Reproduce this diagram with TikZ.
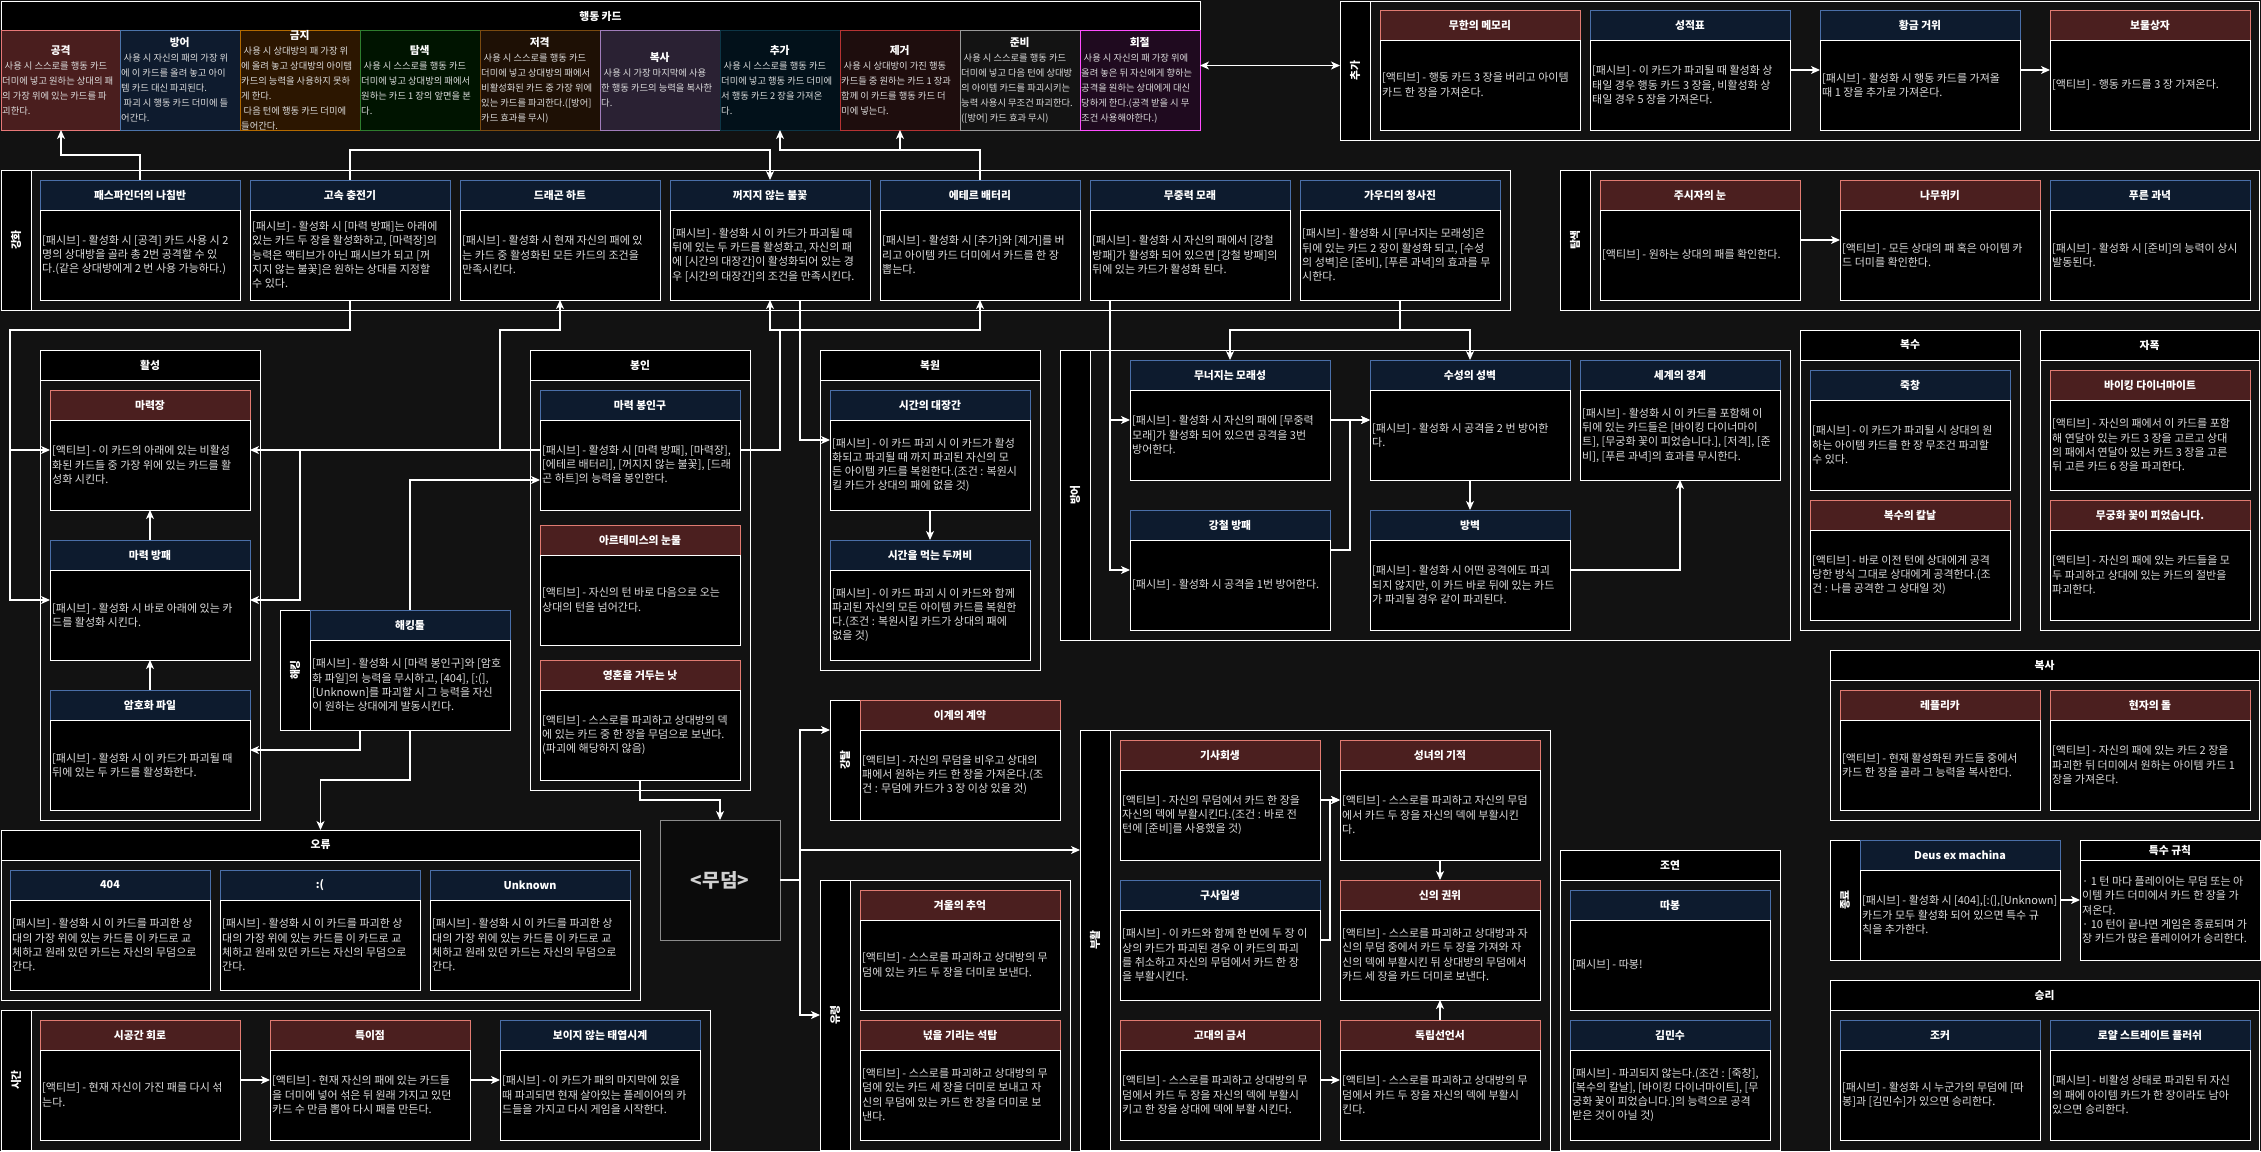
\documentclass[tikz,border=0pt]{standalone}
\usepackage{fontspec}
\setmainfont{Noto Sans CJK KR}
\usetikzlibrary{arrows.meta}

\definecolor{bg}{HTML}{121212}
\definecolor{redF}{HTML}{4B1F1F}
\definecolor{redL}{HTML}{E07B72}
\definecolor{bluF}{HTML}{0D1B2E}
\definecolor{bluL}{HTML}{4A6FA8}
\definecolor{txt}{HTML}{DDDDDD}
% action card colours
\definecolor{atkF}{HTML}{4A1E1E}\definecolor{atkL}{HTML}{E87878}
\definecolor{defF}{HTML}{0E1B2E}\definecolor{defL}{HTML}{4C74AA}
\definecolor{banF}{HTML}{2C1600}\definecolor{banL}{HTML}{B36A00}
\definecolor{srcF}{HTML}{001400}\definecolor{srcL}{HTML}{2E7D2E}
\definecolor{snpF}{HTML}{1E1005}\definecolor{snpL}{HTML}{7A4A10}
\definecolor{cpyF}{HTML}{2A2133}\definecolor{cpyL}{HTML}{A07DBB}
\definecolor{addF}{HTML}{02111A}\definecolor{addL}{HTML}{0D3646}
\definecolor{remF}{HTML}{1E0D0D}\definecolor{remL}{HTML}{B53333}
\definecolor{prpF}{HTML}{131313}\definecolor{prpL}{HTML}{999999}
\definecolor{rflF}{HTML}{1F0A1F}\definecolor{rflL}{HTML}{FF4DFF}
\definecolor{graveF}{HTML}{0B0B0B}\definecolor{graveL}{HTML}{8C8C8C}

\tikzset{
  cardbox/.style={minimum width=200pt, minimum height=120pt, inner sep=0pt, outer sep=0pt},
  redh/.style={draw=redL, fill=redF, line width=1pt},
  bluh/.style={draw=bluL, fill=bluF, line width=1pt},
  bodyb/.style={draw=white, fill=black, line width=1pt},
  htext/.style={text=white, inner sep=0pt, font=\fontsize{10.8}{12}\selectfont\bfseries},
  btext/.style={text=txt, align=left, inner sep=0pt, font=\fontsize{11}{14.3}\selectfont},
  acbox/.style={minimum width=120pt, minimum height=100pt, inner sep=0pt, outer sep=0pt, line width=1pt},
  atext/.style={text=txt, align=left, inner sep=0pt, font=\fontsize{9.3}{15}\selectfont},
  cont/.style={draw=white, line width=1pt, inner sep=0pt, outer sep=0pt},
  band/.style={draw=white, fill=black, line width=1pt},
  ctitle/.style={text=white, inner sep=0pt, font=\fontsize{10.8}{12}\selectfont\bfseries},
  wire/.style={draw=white, line width=1.2pt},
  arr/.style={wire, -{Stealth[length=9pt,width=8pt,inset=2.5pt]}},
  darr/.style={wire, {Stealth[length=9pt,width=8pt,inset=2.5pt]}-{Stealth[length=9pt,width=8pt,inset=2.5pt]}},
}

% item card: name, left x, top y, header style, title, body
\newcommand\icard[6]{%
  \node[cardbox, anchor=north west] (#1) at (#2,#3) {};
  \draw[#4] (#1.north west) rectangle ([yshift=-30pt]#1.north east);
  \draw[bodyb] ([yshift=-30pt]#1.north west) rectangle (#1.south east);
  \node[htext] at ([yshift=-15pt]#1.north) {#5};
  \node[btext, anchor=west] at ([shift={(2pt,-15pt)}]#1.west) {#6};
}
% action card: name, left x, fill, line, title, body
\newcommand\acard[6]{%
  \node[acbox, draw=#4, fill=#3, anchor=north west] (#1) at (#2,30) {};
  \node[atext, anchor=west] at ([xshift=1pt]#1.west)
    {\makebox[117pt]{\color{white}\fontsize{10.8}{15}\selectfont\bfseries #5}\\#6};
}
% container with a title band on top
\newcommand\tcont[6]{%
  \node[cont, minimum width=#4pt, minimum height=#5pt, anchor=north west] (#1) at (#2,#3) {};
  \draw[band] (#1.north west) rectangle ([yshift=-30pt]#1.north east);
  \node[ctitle] at ([yshift=-15pt]#1.north) {#6};
}
% container with a label band on the left
\newcommand\lcont[6]{%
  \node[cont, minimum width=#4pt, minimum height=#5pt, anchor=north west] (#1) at (#2,#3) {};
  \draw[band] (#1.north west) rectangle ([xshift=30pt]#1.south west);
  \node[ctitle, rotate=90] at ([xshift=15pt]#1.west) {#6};
}
\newcommand\ind{\hspace*{2.5pt}}

\begin{document}
\begin{tikzpicture}[x=1pt,y=-1pt]
\useasboundingbox[fill=bg] (0,0) rectangle (2261,1151);

% ---------------- containers ----------------
\tcont{actbox}{1}{1}{1199}{129}{행동 카드}
\lcont{addbox}{1340}{1}{919}{139}{추가}
\lcont{enhbox}{1}{170}{1509}{140}{강화}
\lcont{srchbox}{1560}{170}{699}{140}{탐색}
\tcont{actvbox}{40}{350}{220}{470}{활성}
\tcont{sealbox}{530}{350}{220}{440}{봉인}
\lcont{hackbox}{280}{610}{230}{120}{해킹}
\tcont{restbox}{820}{350}{220}{320}{복원}
\lcont{defbox}{1060}{350}{730}{290}{방어}
\tcont{revgbox}{1800}{330}{220}{300}{복수}
\tcont{boombox}{2040}{330}{219}{300}{자폭}
\tcont{cpybox}{1830}{650}{429}{170}{복사}
\lcont{endbox}{1830}{840}{230}{120}{종료}
\tcont{winbox}{1830}{980}{429}{170}{승리}
\tcont{castbox}{1560}{850}{220}{300}{조연}
\lcont{revbox}{1080}{730}{470}{420}{부활}
\lcont{ghostbox}{820}{880}{250}{270}{유령}
\lcont{pactbox}{830}{700}{230}{120}{강탈}
\tcont{errbox}{1}{830}{639}{170}{오류}
\lcont{timebox}{1}{1010}{709}{140}{시간}

% ---------------- action cards ----------------
\acard{atk}{1}{atkF}{atkL}{공격}{\ind 사용 시 스스로를 행동 카드\\더미에 넣고 원하는 상대의 패\\의 가장 위에 있는 카드를 파\\괴한다.}
\acard{def}{120}{defF}{defL}{방어}{\ind 사용 시 자신의 패의 가장 위\\에 이 카드를 올려 놓고 아이\\템 카드 대신 파괴된다.\\\ind 파괴 시 행동 카드 더미에 들\\어간다.}
\acard{ban}{240}{banF}{banL}{금지}{\ind 사용 시 상대방의 패 가장 위\\에 올려 놓고 상대방의 아이템\\카드의 능력을 사용하지 못하\\게 한다.\\\ind 다음 턴에 행동 카드 더미에\\들어간다.}
\acard{srch}{360}{srcF}{srcL}{탐색}{\ind 사용 시 스스로를 행동 카드\\더미에 넣고 상대방의 패에서\\원하는 카드 1 장의 앞면을 본\\다.}
\acard{snipe}{480}{snpF}{snpL}{저격}{\ind 사용 시 스스로를 행동 카드\\더미에 넣고 상대방의 패에서\\비활성화된 카드 중 가장 위에\\있는 카드를 파괴한다.([방어]\\카드 효과를 무시)}
\acard{copy}{600}{cpyF}{cpyL}{복사}{\ind 사용 시 가장 마지막에 사용\\한 행동 카드의 능력을 복사한\\다.}
\acard{add}{720}{addF}{addL}{추가}{\ind 사용 시 스스로를 행동 카드\\더미에 넣고 행동 카드 더미에\\서 행동 카드 2 장을 가져온\\다.}
\acard{rem}{840}{remF}{remL}{제거}{\ind 사용 시 상대방이 가진 행동\\카드들 중 원하는 카드 1 장과\\함께 이 카드를 행동 카드 더\\미에 넣는다.}
\acard{prep}{960}{prpF}{prpL}{준비}{\ind 사용 시 스스로를 행동 카드\\더미에 넣고 다음 턴에 상대방\\의 아이템 카드를 파괴시키는\\능력 사용시 무조건 파괴한다.\\([방어] 카드 효과 무시)}
\acard{refl}{1080}{rflF}{rflL}{회절}{\ind 사용 시 자신의 패 가장 위에\\올려 놓은 뒤 자신에게 향하는\\공격을 원하는 상대에게 대신\\당하게 한다.(공격 받을 시 무\\조건 사용해야한다.)}

% ---------------- 추가 ----------------
\icard{mem}{1380}{10}{redh}{무한의 메모리}{[액티브] - 행동 카드 3 장을 버리고 아이템\\카드 한 장을 가져온다.}
\icard{grade}{1590}{10}{bluh}{성적표}{[패시브] - 이 카드가 파괴될 때 활성화 상\\태일 경우 행동 카드 3 장을, 비활성화 상\\태일 경우 5 장을 가져온다.}
\icard{goose}{1820}{10}{bluh}{황금 거위}{[패시브] - 활성화 시 행동 카드를 가져올\\때 1 장을 추가로 가져온다.}
\icard{chest}{2050}{10}{redh}{보물상자}{[액티브] - 행동 카드를 3 장 가져온다.}

% ---------------- 강화 ----------------
\icard{pfn}{40}{180}{bluh}{패스파인더의 나침반}{[패시브] - 활성화 시 [공격] 카드 사용 시 2\\명의 상대방을 골라 총 2번 공격할 수 있\\다.(같은 상대방에게 2 번 사용 가능하다.)}
\icard{fastchg}{250}{180}{bluh}{고속 충전기}{[패시브] - 활성화 시 [마력 방패]는 아래에\\있는 카드 두 장을 활성화하고, [마력장]의\\능력은 액티브가 아닌 패시브가 되고 [꺼\\지지 않는 불꽃]은 원하는 상대를 지정할\\수 있다.}
\icard{dragon}{460}{180}{bluh}{드래곤 하트}{[패시브] - 활성화 시 현재 자신의 패에 있\\는 카드 중 활성화된 모든 카드의 조건을\\만족시킨다.}
\icard{flame}{670}{180}{bluh}{꺼지지 않는 불꽃}{[패시브] - 활성화 시 이 카드가 파괴될 때\\뒤에 있는 두 카드를 활성화고, 자신의 패\\에 [시간의 대장간]이 활성화되어 있는 경\\우 [시간의 대장간]의 조건을 만족시킨다.}
\icard{ether}{880}{180}{bluh}{에테르 배터리}{[패시브] - 활성화 시 [추가]와 [제거]를 버\\리고 아이템 카드 더미에서 카드를 한 장\\뽑는다.}
\icard{sand}{1090}{180}{bluh}{무중력 모래}{[패시브] - 활성화 시 자신의 패에서 [강철\\방패]가 활성화 되어 있으면 [강철 방패]의\\뒤에 있는 카드가 활성화 된다.}
\icard{gaudi}{1300}{180}{bluh}{가우디의 청사진}{[패시브] - 활성화 시 [무너지는 모래성]은\\뒤에 있는 카드 2 장이 활성화 되고, [수성\\의 성벽]은 [준비], [푸른 과녁]의 효과를 무\\시한다.}

% ---------------- 탐색 ----------------
\icard{eye}{1600}{180}{redh}{주시자의 눈}{[액티브] - 원하는 상대의 패를 확인한다.}
\icard{namu}{1840}{180}{redh}{나무위키}{[액티브] - 모든 상대의 패 혹은 아이템 카\\드 더미를 확인한다.}
\icard{target}{2050}{180}{bluh}{푸른 과녁}{[패시브] - 활성화 시 [준비]의 능력이 상시\\발동된다.}

% ---------------- 활성 ----------------
\icard{fieldm}{50}{390}{redh}{마력장}{[액티브] - 이 카드의 아래에 있는 비활성\\화된 카드들 중 가장 위에 있는 카드를 활\\성화 시킨다.}
\icard{mshield}{50}{540}{bluh}{마력 방패}{[패시브] - 활성화 시 바로 아래에 있는 카\\드를 활성화 시킨다.}
\icard{crypt}{50}{690}{bluh}{암호화 파일}{[패시브] - 활성화 시 이 카드가 파괴될 때\\뒤에 있는 두 카드를 활성화한다.}

% ---------------- 봉인 ----------------
\icard{sealer}{540}{390}{bluh}{마력 봉인구}{[패시브] - 활성화 시 [마력 방패], [마력장],\\{}[에테르 배터리], [꺼지지 않는 불꽃], [드래\\곤 하트]의 능력을 봉인한다.}
\icard{artemis}{540}{525}{redh}{아르테미스의 눈물}{[액티브] - 자신의 턴 바로 다음으로 오는\\상대의 턴을 넘어간다.}
\icard{scythe}{540}{660}{redh}{영혼을 거두는 낫}{[액티브] - 스스로를 파괴하고 상대방의 덱\\에 있는 카드 중 한 장을 무덤으로 보낸다.\\(파괴에 해당하지 않음)}

% ---------------- 해킹 ----------------
\icard{hacktool}{310}{610}{bluh}{해킹툴}{[패시브] - 활성화 시 [마력 봉인구]와 [암호\\화 파일]의 능력을 무시하고, [404], [:(],\\{}[Unknown]를 파괴할 시 그 능력을 자신\\이 원하는 상대에게 발동시킨다.}

% ---------------- 복원 ----------------
\icard{forge}{830}{390}{bluh}{시간의 대장간}{[패시브] - 이 카드 파괴 시 이 카드가 활성\\화되고 파괴될 때 까지 파괴된 자신의 모\\든 아이템 카드를 복원한다.(조건 : 복원시\\킬 카드가 상대의 패에 없을 것)}
\icard{toad}{830}{540}{bluh}{시간을 먹는 두꺼비}{[패시브] - 이 카드 파괴 시 이 카드와 함께\\파괴된 자신의 모든 아이템 카드를 복원한\\다.(조건 : 복원시킬 카드가 상대의 패에\\없을 것)}

% ---------------- 방어 ----------------
\icard{castle}{1130}{360}{bluh}{무너지는 모래성}{[패시브] - 활성화 시 자신의 패에 [무중력\\모래]가 활성화 되어 있으면 공격을 3번\\방어한다.}
\icard{rampart}{1370}{360}{bluh}{수성의 성벽}{[패시브] - 활성화 시 공격을 2 번 방어한\\다.}
\icard{world}{1580}{360}{bluh}{세계의 경계}{[패시브] - 활성화 시 이 카드를 포함해 이\\뒤에 있는 카드들은 [바이킹 다이너마이\\트], [무궁화 꽃이 피었습니다.], [저격], [준\\비], [푸른 과녁]의 효과를 무시한다.}
\icard{steel}{1130}{510}{bluh}{강철 방패}{[패시브] - 활성화 시 공격을 1번 방어한다.}
\icard{wall}{1370}{510}{bluh}{방벽}{[패시브] - 활성화 시 어떤 공격에도 파괴\\되지 않지만, 이 카드 바로 뒤에 있는 카드\\가 파괴될 경우 같이 파괴된다.}

% ---------------- 복수 / 자폭 ----------------
\icard{spear}{1810}{370}{bluh}{죽창}{[패시브] - 이 카드가 파괴될 시 상대의 원\\하는 아이템 카드를 한 장 무조건 파괴할\\수 있다.}
\icard{blade}{1810}{500}{redh}{복수의 칼날}{[액티브] - 바로 이전 턴에 상대에게 공격\\당한 방식 그대로 상대에게 공격한다.(조\\건 : 나를 공격한 그 상대일 것)}
\icard{viking}{2050}{370}{redh}{바이킹 다이너마이트}{[액티브] - 자신의 패에서 이 카드를 포함\\해 연달아 있는 카드 3 장을 고르고 상대\\의 패에서 연달아 있는 카드 3 장을 고른\\뒤 고른 카드 6 장을 파괴한다.}
\icard{mugung}{2050}{500}{redh}{무궁화 꽃이 피었습니다.}{[액티브] - 자신의 패에 있는 카드들을 모\\두 파괴하고 상대에 있는 카드의 절반을\\파괴한다.}

% ---------------- 복사 ----------------
\icard{replica}{1840}{690}{redh}{레플리카}{[액티브] - 현재 활성화된 카드들 중에서\\카드 한 장을 골라 그 능력을 복사한다.}
\icard{stone}{2050}{690}{redh}{현자의 돌}{[액티브] - 자신의 패에 있는 카드 2 장을\\파괴한 뒤 더미에서 원하는 아이템 카드 1\\장을 가져온다.}

% ---------------- 종료 / 특수 규칙 ----------------
\icard{deus}{1860}{840}{bluh}{Deus ex machina}{[패시브] - 활성화 시 [404],[:(],[Unknown]\\카드가 모두 활성화 되어 있으면 특수 규\\칙을 추가한다.}
\node[cont, fill=black, minimum width=180pt, minimum height=120pt, anchor=north west] (rules) at (2080,840) {};
\draw[band] (rules.north west) rectangle ([yshift=-20pt]rules.north east);
\node[ctitle] at ([yshift=-10pt]rules.north) {특수 규칙};
\node[btext, anchor=west] at ([shift={(2pt,-10pt)}]rules.west) {· 1 턴 마다 플레이어는 무덤 또는 아\\이템 카드 더미에서 카드 한 장을 가\\져온다.\\· 10 턴이 끝나면 게임은 종료되며 가\\장 카드가 많은 플레이어가 승리한다.};

% ---------------- 승리 ----------------
\icard{joker}{1840}{1020}{bluh}{조커}{[패시브] - 활성화 시 누군가의 무덤에 [따\\봉]과 [김민수]가 있으면 승리한다.}
\icard{royal}{2050}{1020}{bluh}{로얄 스트레이트 플러쉬}{[패시브] - 비활성 상태로 파괴된 뒤 자신\\의 패에 아이템 카드가 한 장이라도 남아\\있으면 승리한다.}

% ---------------- 조연 ----------------
\icard{ttabong}{1570}{890}{bluh}{따봉}{[패시브] - 따봉!}
\icard{kimms}{1570}{1020}{bluh}{김민수}{[패시브] - 파괴되지 않는다.(조건 : [죽창],\\{}[복수의 칼날], [바이킹 다이너마이트], [무\\궁화 꽃이 피었습니다.]의 능력으로 공격\\받은 것이 아닐 것)}

% ---------------- 부활 ----------------
\icard{knight}{1120}{740}{redh}{기사회생}{[액티브] - 자신의 무덤에서 카드 한 장을\\자신의 덱에 부활시킨다.(조건 : 바로 전\\턴에 [준비]를 사용했을 것)}
\icard{saint}{1340}{740}{redh}{성녀의 기적}{[액티브] - 스스로를 파괴하고 자신의 무덤\\에서 카드 두 장을 자신의 덱에 부활시킨\\다.}
\icard{narrow}{1120}{880}{bluh}{구사일생}{[패시브] - 이 카드와 함께 한 번에 두 장 이\\상의 카드가 파괴된 경우 이 카드의 파괴\\를 취소하고 자신의 무덤에서 카드 한 장\\을 부활시킨다.}
\icard{divine}{1340}{880}{redh}{신의 권위}{[액티브] - 스스로를 파괴하고 상대방과 자\\신의 무덤 중에서 카드 두 장을 가져와 자\\신의 덱에 부활시킨 뒤 상대방의 무덤에서\\카드 세 장을 카드 더미로 보낸다.}
\icard{ancient}{1120}{1020}{redh}{고대의 금서}{[액티브] - 스스로를 파괴하고 상대방의 무\\덤에서 카드 두 장을 자신의 덱에 부활시\\키고 한 장을 상대에 덱에 부활 시킨다.}
\icard{indep}{1340}{1020}{redh}{독립선언서}{[액티브] - 스스로를 파괴하고 상대방의 무\\덤에서 카드 두 장을 자신의 덱에 부활시\\킨다.}

% ---------------- 유령 / 계약 ----------------
\icard{winter}{860}{890}{redh}{겨울의 추억}{[액티브] - 스스로를 파괴하고 상대방의 무\\덤에 있는 카드 두 장을 더미로 보낸다.}
\icard{tower}{860}{1020}{redh}{넋을 기리는 석탑}{[액티브] - 스스로를 파괴하고 상대방의 무\\덤에 있는 카드 세 장을 더미로 보내고 자\\신의 무덤에 있는 카드 한 장을 더미로 보\\낸다.}
\icard{contract}{860}{700}{redh}{이계의 계약}{[액티브] - 자신의 무덤을 비우고 상대의\\패에서 원하는 카드 한 장을 가져온다.(조\\건 : 무덤에 카드가 3 장 이상 있을 것)}

% ---------------- 무덤 ----------------
\node[draw=graveL, fill=graveF, line width=1pt, minimum size=120pt, inner sep=0pt, outer sep=0pt,
      anchor=north west, text=white!82!black, font=\fontsize{19}{23}\selectfont\bfseries] (grave) at (660,820) {<무덤>};

% ---------------- 오류 ----------------
\icard{e404}{10}{870}{bluh}{404}{[패시브] - 활성화 시 이 카드를 파괴한 상\\대의 가장 위에 있는 카드를 이 카드로 교\\체하고 원래 있던 카드는 자신의 무덤으로\\간다.}
\icard{esad}{220}{870}{bluh}{:(}{[패시브] - 활성화 시 이 카드를 파괴한 상\\대의 가장 위에 있는 카드를 이 카드로 교\\체하고 원래 있던 카드는 자신의 무덤으로\\간다.}
\icard{eunk}{430}{870}{bluh}{Unknown}{[패시브] - 활성화 시 이 카드를 파괴한 상\\대의 가장 위에 있는 카드를 이 카드로 교\\체하고 원래 있던 카드는 자신의 무덤으로\\간다.}

% ---------------- 시간 ----------------
\icard{circuit}{40}{1020}{redh}{시공간 회로}{[액티브] - 현재 자신이 가진 패를 다시 섞\\는다.}
\icard{singular}{270}{1020}{redh}{특이점}{[액티브] - 현재 자신의 패에 있는 카드들\\을 더미에 넣어 섞은 뒤 원래 가지고 있던\\카드 수 만큼 뽑아 다시 패를 만든다.}
\icard{clock}{500}{1020}{bluh}{보이지 않는 태엽시계}{[패시브] - 이 카드가 패의 마지막에 있을\\때 파괴되면 현재 살아있는 플레이어의 카\\드들을 가지고 다시 게임을 시작한다.}

% ---------------- connectors ----------------
\coordinate (jL) at (10,330);
\coordinate (jA) at (300,450);
\coordinate (jB) at (500,330);
\coordinate (jC) at (780,330);
\coordinate (jE) at (1350,550);
\coordinate (jG) at (800,880);
\coordinate (jH) at (1330,940);

\draw[darr] (actbox.east) -- (actbox.east -| addbox.west);
\draw[arr] (pfn.north) -- ++(0,-25) -| (atk.south);
\draw[arr] (fastchg.north) -- ++(0,-30) -| (flame.north);
\draw[arr] (ether.north) -- ++(0,-30) -| (add.south);
\draw[arr] (ether.north) -- ++(0,-30) -| (rem.south);
\draw[arr] (fastchg.south) |- (jL) |- (fieldm.west);
\draw[arr] (fastchg.south) |- (jL) |- (mshield.west);
\draw[arr] (sealer.west) -- (fieldm.east);
\draw[arr] (sealer.west) -- (jA) |- (mshield.east);
\draw[arr] (sealer.west) -| (jB) -| (dragon.south);
\draw[arr] (sealer.east) -| (jC) -| (flame.south);
\draw[arr] (sealer.east) -| (jC) -| (ether.south);
\draw[arr] ([xshift=30pt]flame.south) |- ([yshift=10pt]forge.west);
\draw[arr] (gaudi.south) -- ++(0,30) -| (castle.north);
\draw[arr] (gaudi.south) -- ++(0,30) -| (rampart.north);
\draw[arr] ([xshift=-80pt]sand.south) |- (castle.west);
\draw[arr] ([xshift=-80pt]sand.south) |- (steel.west);
\draw[arr] (castle.east) -- (rampart.west);
\draw[arr] ([yshift=20pt]steel.east) -- (jE) |- (rampart.west);
\draw[arr] (rampart.south) -- (wall.north);
\draw[arr] (wall.east) -| (world.south);
\draw[arr] (grade.east) -- (goose.west);
\draw[arr] (goose.east) -- (chest.west);
\draw[arr] (eye.east) -- (namu.west);
\draw[arr] (crypt.north) -- (mshield.south);
\draw[arr] (mshield.north) -- (fieldm.south);
\draw[arr] (hacktool.north) |- ([yshift=-30pt]sealer.west);
\draw[arr] ([xshift=-50pt]hacktool.south) |- (crypt.east);
\draw[arr] (hacktool.south) -- ++(0,50) -| (errbox.north);
\draw[arr] (forge.south) -- (toad.north);
\draw[arr] (scythe.south) -- ++(0,20) -| (grave.north);
\draw[wire] (grave.east) -- (jG);
\draw[arr] (jG) |- ([yshift=30pt]pactbox.west);
\draw[arr] (jG) |- (ghostbox.west);
\draw[arr] (jG) |- ([yshift=90pt]revbox.west);
\draw[arr] (circuit.east) -- (singular.west);
\draw[arr] (singular.east) -- (clock.west);
\draw[arr] (knight.east) -- (saint.west);
\draw[arr] (narrow.east) -- (jH) |- (saint.west);
\draw[arr] (saint.south) -- (divine.north);
\draw[arr] (indep.north) -- (divine.south);
\draw[arr] (ancient.east) -- (indep.west);
\draw[arr] (deus.east) -- (rules.west);
\end{tikzpicture}
\end{document}
